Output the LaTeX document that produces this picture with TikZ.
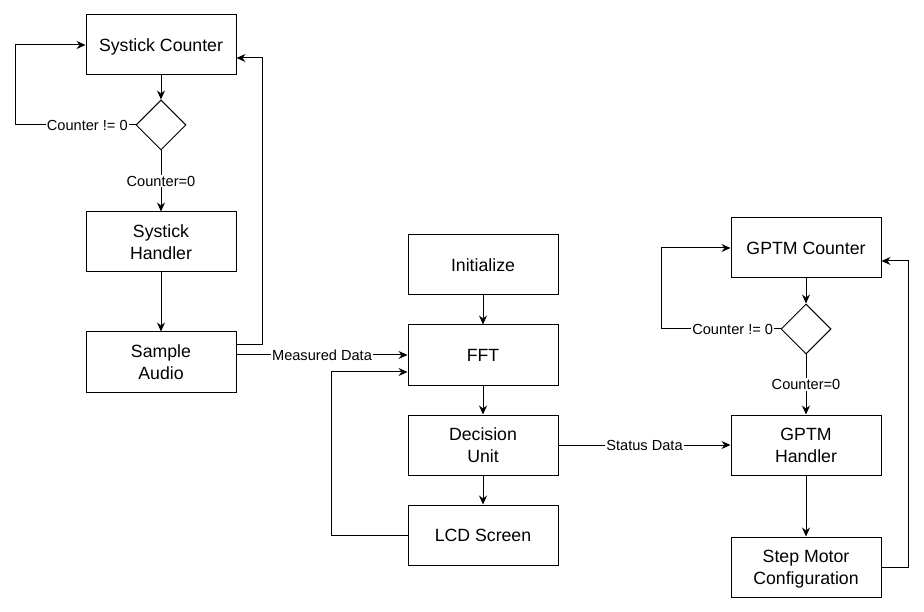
\documentclass[tikz,border=0pt]{standalone}
\usepackage{fontspec}
\setmainfont{Liberation Sans}
\usetikzlibrary{arrows.meta,shapes.geometric}
\begin{document}
\begin{tikzpicture}[x=1pt,y=-1pt,
  box/.style={draw,line width=1pt,minimum width=150pt,minimum height=60pt,inner sep=0pt,align=center,text depth=0pt,font=\fontsize{17.7}{21.7}\selectfont},
  dec/.style={draw,line width=1pt,diamond,minimum width=50pt,minimum height=50pt,inner sep=0pt,aspect=1},
  link/.style={line width=1pt,-{Stealth[length=9pt,width=8pt,inset=3pt]}},
  lbl/.style={fill=white,inner sep=1pt,font=\fontsize{14.6}{17}\selectfont}]
\useasboundingbox (0,0) rectangle (924,612);

% Systick branch
\node[box] (sc) at (161,45) {Systick Counter};
\node[dec] (d1) at (161,125) {};
\node[box] (sh) at (161,242) {Systick\\Handler};
\node[box] (sa) at (161,362) {Sample\\Audio};

% main processing column
\node[box] (init) at (483,265) {Initialize};
\node[box] (fft) at (483,355) {FFT};
\node[box] (du) at (483,445) {Decision\\Unit};
\node[box] (lcd) at (483,535) {LCD Screen};

% GPTM branch
\node[box] (gc) at (806,248) {GPTM Counter};
\node[dec] (d2) at (806,329) {};
\node[box] (gh) at (806,445) {GPTM\\Handler};
\node[box] (sm) at (806,567) {Step Motor\\Configuration};

% bend points of the loops
\coordinate (b1) at (15,125);
\coordinate (b2) at (262,58);
\coordinate (b3) at (331,372);
\coordinate (b4) at (661,329);
\coordinate (b5) at (908,261);

% Systick connectors
\draw[link] (sc.south) -- (d1.north);
\draw[link] (d1.west) -- node[lbl,pos=.4]{Counter != 0} (b1) |- (sc.west);
\draw[link] (d1.south) -- node[lbl]{Counter=0} (sh.north);
\draw[link] (sh.south) -- (sa.north);
\draw[link] ([yshift=17pt]sa.east) -| (b2) -- ([yshift=-13pt]sc.east);
\draw[link] ([yshift=7pt]sa.east) -- node[lbl]{Measured Data} (fft.west);

% processing connectors
\draw[link] (init.south) -- (fft.north);
\draw[link] (fft.south) -- (du.north);
\draw[link] (du.south) -- (lcd.north);
\draw[link] (lcd.west) -| (b3) -- ([yshift=-17pt]fft.west);
\draw[link] (du.east) -- node[lbl]{Status Data} (gh.west);

% GPTM connectors
\draw[link] (gc.south) -- (d2.north);
\draw[link] (d2.west) -- node[lbl,pos=.4]{Counter != 0} (b4) |- (gc.west);
\draw[link] (d2.south) -- node[lbl]{Counter=0} (gh.north);
\draw[link] (gh.south) -- (sm.north);
\draw[link] (sm.east) -| (b5) -- ([yshift=-13pt]gc.east);
\end{tikzpicture}
\end{document}
